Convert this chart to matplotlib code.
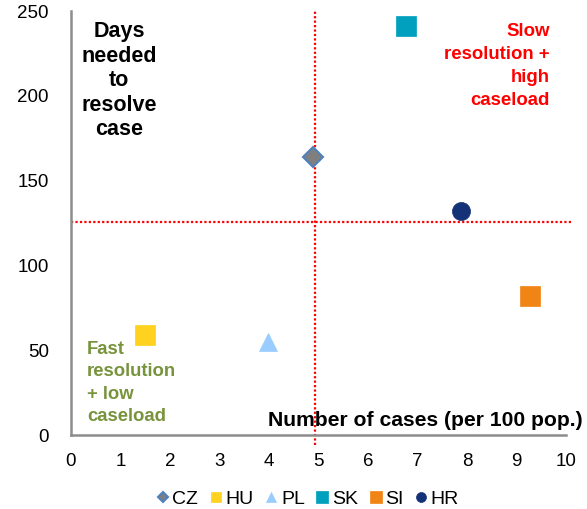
import matplotlib
matplotlib.use("Agg")
from matplotlib import pyplot as plt

plt.rcParams['font.family'] = ['Liberation Sans', 'DejaVu Sans']

COUNTRIES = ["CZ", "HU", "PL", "SK", "SI", "HR"]
CASES = [4.88, 1.5, 3.98, 6.77, 9.27, 7.88]      # number of cases per 100 pop.
DAYS = [164, 59, 55, 241, 82, 132]              # days needed to resolve case
MARKERS = ["D", "s", "^", "s", "s", "o"]
COLORS = ["#7F7F7F", "#FFD21F", "#99CCFF", "#00A0BE", "#F08415", "#143278"]
EDGES = ["#4F81BD", "#FFD21F", "#99CCFF", "#00A0BE", "#F08415", "#143278"]
SIZES = [10, 14, 13, 14.5, 14.5, 13]

AVG_CASES = 4.93
AVG_DAYS = 125.5

fig = plt.figure(figsize=(5.87, 5.09), dpi=100)
ax = fig.add_axes([71 / 587, 74 / 509, 495 / 587, 424 / 509])

for c, x, y, m, col, ec, s in zip(COUNTRIES, CASES, DAYS, MARKERS, COLORS, EDGES, SIZES):
    ax.plot([x], [y], marker=m, color=col, markeredgecolor=ec,
            markeredgewidth=1.5 if c == "CZ" else 0.5,
            markersize=s, linestyle="none", label=c, zorder=3, clip_on=False)

# average lines
ax.plot([AVG_CASES, AVG_CASES], [-6, 250], color="red", linestyle=(0, (1, 1)),
        linewidth=1.6, clip_on=False, zorder=2)
ax.plot([0, 10.12], [AVG_DAYS, AVG_DAYS], color="red", linestyle=(0, (1, 1)),
        linewidth=1.6, clip_on=False, zorder=2)

ax.set_xlim(0, 10)
ax.set_ylim(0, 250)
ax.set_xticks(range(0, 11))
ax.set_yticks(range(0, 251, 50))
ax.tick_params(length=0, labelsize=13.5)
ax.tick_params(axis="y", pad=16)
ax.tick_params(axis="x", pad=13)
for side in ["top", "right"]:
    ax.spines[side].set_visible(False)
for side in ["left", "bottom"]:
    ax.spines[side].set_color("#8C8C8C")
    ax.spines[side].set_linewidth(1.8)

fig.text(119 / 587, 1 - 21 / 509, "Days\nneeded\nto\nresolve\ncase",
         ha="center", va="top", fontsize=15.5, fontweight="bold", linespacing=1.22)
fig.text(550 / 587, 1 - 23 / 509, "Slow\nresolution +\nhigh\ncaseload",
         ha="right", va="top", fontsize=13.4, fontweight="bold", color="red",
         linespacing=1.45)
fig.text(87 / 587, 1 - 341 / 509, "Fast\nresolution\n+ low\ncaseload",
         ha="left", va="top", fontsize=13.3, fontweight="bold", color="#77933C",
         linespacing=1.42)
fig.text(583 / 587, 1 - 426 / 509, "Number of cases (per 100 pop.)",
         ha="right", va="baseline", fontsize=15.2, fontweight="bold")

handles, labels = ax.get_legend_handles_labels()
leg = fig.legend(handles, labels, loc="center", bbox_to_anchor=(308 / 587, 1 - 499 / 509),
                 ncol=6, frameon=False, fontsize=14, handlelength=0.6,
                 handletextpad=0.2, columnspacing=0.6, markerscale=0.55,
                 borderaxespad=0)

fig.savefig("out.png", dpi=100)
